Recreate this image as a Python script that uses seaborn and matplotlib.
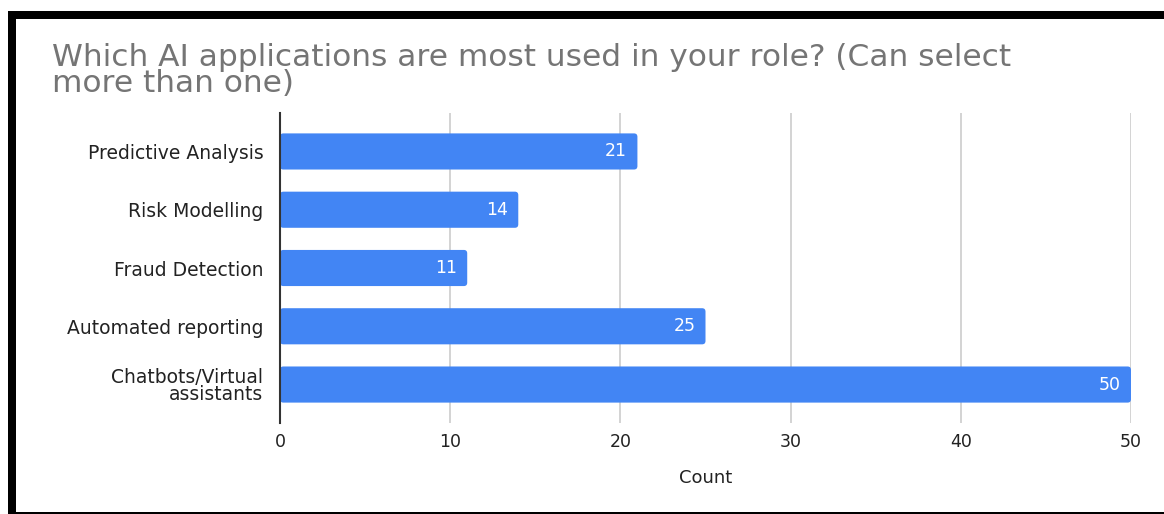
import matplotlib
matplotlib.use("Agg")
import matplotlib.pyplot as plt
import seaborn as sns
import pandas as pd
from matplotlib.patches import Rectangle, FancyBboxPatch

categories = ["Predictive Analysis", "Risk Modelling", "Fraud Detection",
              "Automated reporting", "Chatbots/Virtual\nassistants"]
counts = [21, 14, 11, 25, 50]
xticks = [0, 10, 20, 30, 40, 50]

sns.set_theme(style="white")
plt.rcParams['font.family'] = ['DejaVu Sans']

W, H = 1164, 514
fig = plt.figure(figsize=(W/100, H/100), dpi=100)
fig.patch.set_facecolor("white")
ax = fig.add_axes([280/W, 1-423/H, (1131-280)/W, (423-113)/H])

df = pd.DataFrame({"cat": categories, "count": counts})
sns.barplot(data=df, y="cat", x="count", color="#4285F4", saturation=1,
            width=0.62, ax=ax, zorder=3)

ax.set_xlim(0, 50)
ax.set_ylim(4.66, -0.66)

# round bar corners
px_x = (1131-280)/50.0
px_y = (423-113)/5.32
for p in list(ax.patches):
    x0, y0, w, h = p.get_x(), p.get_y(), p.get_width(), p.get_height()
    fb = FancyBboxPatch((x0, y0), w, h,
                        boxstyle="round,pad=0,rounding_size=0.2",
                        mutation_aspect=px_x/px_y,
                        facecolor=p.get_facecolor(), edgecolor="none", zorder=3)
    p.remove()
    ax.add_patch(fb)

ax.set_xticks(xticks)
ax.set_xticklabels([str(t) for t in xticks], fontsize=12.5, color="#222222")
ax.tick_params(axis="x", length=0, pad=7)
ax.tick_params(axis="y", length=0, pad=12, labelsize=13.5, labelcolor="#222222")
for t in ax.get_yticklabels():
    t.set_linespacing(0.9)
ax.grid(axis="x", color="#cccccc", linewidth=1.2, zorder=0)
ax.set_axisbelow(True)
for s in ["top", "right", "bottom"]:
    ax.spines[s].set_visible(False)
ax.spines["left"].set_color("#333333")
ax.spines["left"].set_linewidth(1.5)
ax.spines["left"].set_zorder(4)
ax.set_ylabel("")
ax.set_xlabel("Count", fontsize=13, color="#222222", labelpad=13)

for i, v in enumerate(counts):
    ax.text(v - 0.6, i, str(v), ha="right", va="center", color="white",
            fontsize=12.5, zorder=5)

fig.text(52/W, 1-92/H, "Which AI applications are most used in your role? (Can select\nmore than one)",
         fontsize=22.5, color="#757575", ha="left", va="baseline", linespacing=0.85)

# black frame
fig.add_artist(Rectangle((8/W, 0), 8/W, 1-11/H, transform=fig.transFigure,
                         color="black", lw=0))
fig.add_artist(Rectangle((8/W, 1-19/H), 1-8/W, 8/H, transform=fig.transFigure,
                         color="black", lw=0))
fig.add_artist(Rectangle((8/W, 0), 1-8/W, 2/H, transform=fig.transFigure,
                         color="black", lw=0))

fig.savefig("out.png", dpi=100)
